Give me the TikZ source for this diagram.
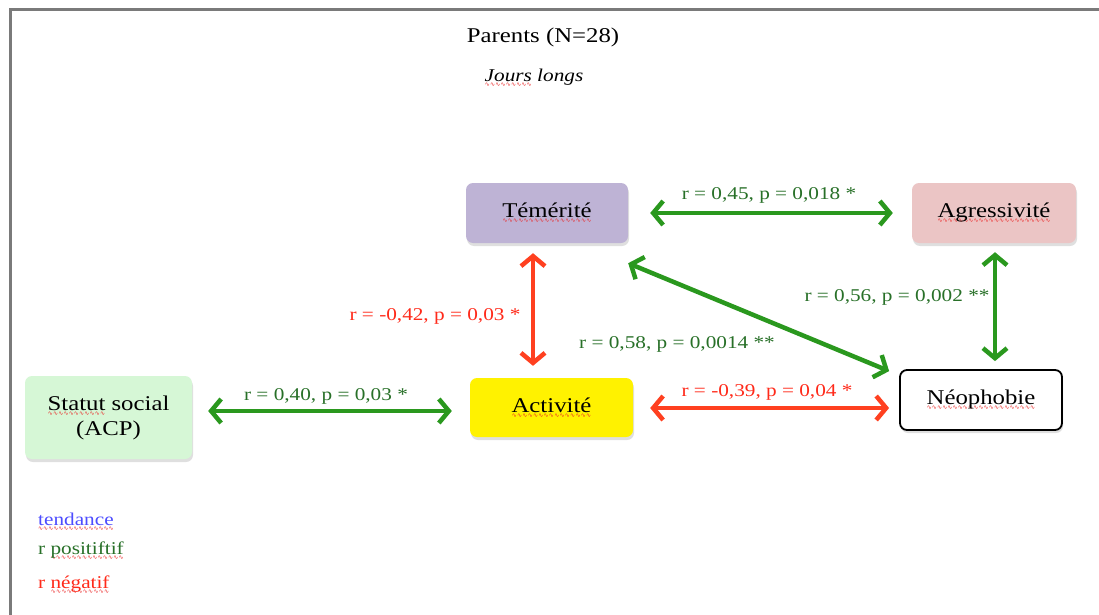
\documentclass[tikz,border=0pt]{standalone}
\usepackage{fontspec}
\setmainfont{Liberation Serif}[FakeStretch=1.18]
\newfontfamily\wavefont{DejaVu Sans}
\usetikzlibrary{arrows.meta,shadows}

\definecolor{spellred}{RGB}{235,40,40}
\definecolor{lavender}{RGB}{190,179,213}
\definecolor{rosebox}{RGB}{235,197,197}
\definecolor{mintbox}{RGB}{214,247,214}
\definecolor{posline}{RGB}{42,152,30}
\definecolor{negline}{RGB}{255,64,32}
\definecolor{postext}{RGB}{40,112,40}
\definecolor{negtext}{RGB}{255,42,26}
\definecolor{trendtext}{RGB}{77,77,255}
\definecolor{framegray}{RGB}{122,122,122}

% red wavy underline, as a spell checker marks a word
\newsavebox\spellbox
\newcommand\spell[1]{\sbox\spellbox{#1}%
  \rlap{\raisebox{-5pt}{\textcolor{spellred}{\wavefont\fontsize{6}{6}\selectfont
    \hbox to \wd\spellbox{\xleaders\hbox{∿}\hfill}}}}\usebox\spellbox}

\tikzset{
  framing/.style={draw=framegray, line width=3pt},
  varbox/.style={rounded corners=7pt, minimum width=162pt, minimum height=60pt,
    align=center, font=\fontsize{21}{25}\selectfont,
    drop shadow={shadow xshift=1pt, shadow yshift=-3pt, opacity=0.25}},
  tipend/.tip={Straight Barb[length=10pt,width=24pt]},
  corr/.style={line width=4.5pt, tipend-tipend},
  poslink/.style={corr, draw=posline},
  neglink/.style={corr, draw=negline},
  stat/.style={font=\fontsize{18}{21}\selectfont, inner sep=1pt},
  posstat/.style={stat, text=postext},
  negstat/.style={stat, text=negtext},
  legend/.style={font=\fontsize{18}{21}\selectfont, anchor=west, inner sep=0pt}
}

\begin{document}
\begin{tikzpicture}[x=1pt,y=-1pt]
\useasboundingbox (0,0) rectangle (1099,615);
\fill[white] (0,0) rectangle (1099,615);
\draw[framing] (1099,10) -- (10,10) -- (10,615);

% headings
\node[font=\fontsize{21}{25}\selectfont] (title) at (543,37) {Parents (N=28)};
\node[font=\fontsize{18}{21}\selectfont\itshape] (sub) at (534,78) {\spell{Jours} longs};

% variables
\node[varbox, fill=lavender] (tem) at (547,213) {\spell{Témérité}};
\node[varbox, fill=rosebox, minimum width=164pt] (agr) at (994,213) {\spell{Agressivité}};
\node[varbox, fill=mintbox, minimum width=167pt, minimum height=83pt] (sta) at (108.5,417.5) {\spell{Statut} social\\(ACP)};
\node[varbox, fill=yellow, minimum width=163pt, minimum height=59pt] (act) at (551.5,407.5) {\spell{Activité}};
\node[varbox, fill=white, draw=black, line width=1.8pt] (neo) at (981,400) {\spell{Néophobie}};

% correlations
\draw[poslink, shorten <=22pt, shorten >=19pt] (tem) -- (agr);
\draw[neglink, shorten <=10pt, shorten >=12pt] ([xshift=-14pt]tem.south) -- ([xshift=-18.5pt]act.north);
\draw[poslink] ([xshift=-10pt,yshift=-2pt]neo.north west) -- ([yshift=-20pt]tem.south east);
\draw[poslink, shorten <=9pt, shorten >=8pt] ([xshift=1pt]agr.south) -- ([xshift=14pt]neo.north);
\draw[poslink, shorten <=16pt, shorten >=18pt] ([yshift=6.5pt]sta.east) -- ([yshift=-3.5pt]act.west);
\draw[neglink, shorten <=17pt, shorten >=10pt] ([yshift=-0.5pt]act.east) -- ([yshift=-8pt]neo.west);

% coefficients
\node[posstat] (s1) at (769,195) {r = 0,45, p = 0,018 *};
\node[negstat] (s2) at (435,316) {r = -0,42, p = 0,03 *};
\node[posstat] (s3) at (677,344) {r = 0,58, p = 0,0014 **};
\node[posstat] (s4) at (897,297) {r = 0,56, p = 0,002 **};
\node[posstat] (s5) at (326,396) {r = 0,40, p = 0,03 *};
\node[negstat] (s6) at (767,392) {r = -0,39, p = 0,04 *};

% key
\node[legend, text=trendtext] (k1) at (38,522) {\spell{tendance}};
\node[legend, text=postext] (k2) at (38,551) {r \spell{positiftif}};
\node[legend, text=negtext] (k3) at (38,585) {r \spell{négatif}};
\end{tikzpicture}
\end{document}
